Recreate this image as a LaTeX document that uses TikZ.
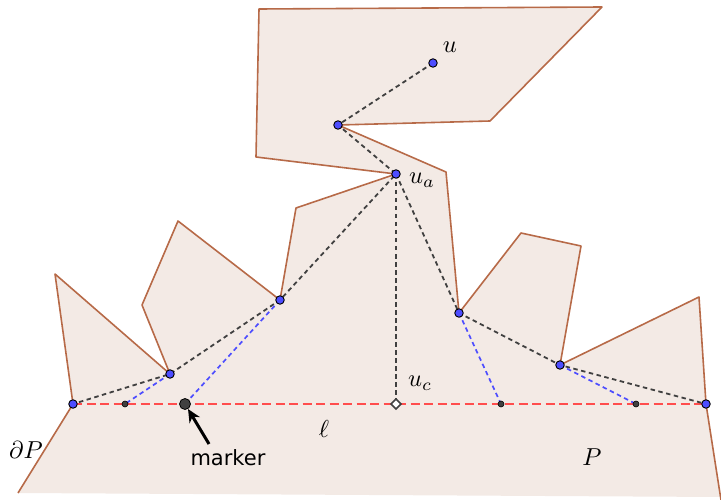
\documentclass[tikz,border=0pt]{standalone}
\usepackage{fontspec}
\newfontfamily\labelsans{DejaVu Sans}
\usetikzlibrary{arrows.meta}
\definecolor{polyfill}{HTML}{F3EAE5}
\definecolor{polyedge}{HTML}{B76A48}
\definecolor{ptblue}{HTML}{4D4DFF}
\definecolor{dkgray}{HTML}{404040}
\definecolor{lnred}{HTML}{FF4D4D}
\definecolor{lnblue}{HTML}{4D4DFF}
\begin{document}
\begin{tikzpicture}[x=1pt,y=-1pt,
  bluept/.style={circle,fill=ptblue,draw=black,line width=0.9pt,inner sep=0pt,minimum size=8.5pt},
  blackpt/.style={circle,fill=dkgray,draw=black,line width=0.6pt,inner sep=0pt,minimum size=6pt},
  markerpt/.style={circle,fill=dkgray,draw=black,line width=0.8pt,inner sep=0pt,minimum size=11pt},
  graydash/.style={draw=dkgray,line width=1.8pt,dash pattern=on 4.5pt off 3.5pt},
  bluedash/.style={draw=lnblue,line width=1.7pt,dash pattern=on 4.5pt off 3.5pt},
  reddash/.style={draw=lnred,line width=1.7pt,dash pattern=on 9pt off 4.5pt},
  mathlbl/.style={inner sep=0pt,scale=2.45},
  edge/.style={draw=polyedge,line width=1.6pt,line join=round}]
\useasboundingbox (0,0) rectangle (721,500);
% polygon fill
\fill[polyfill] (18,493) -- (73,404) -- (55,274) -- (170,374) -- (142,305) -- (178,221)
  -- (280,300) -- (296,208) -- (396,174) -- (256,157) -- (259,9) -- (602,7) -- (490,121)
  -- (338,125) -- (446,172) -- (459,313) -- (521,233) -- (581,246) -- (560,365)
  -- (699,297) -- (706,404) -- (721,500) -- (721,497) -- cycle;
\draw[edge] (18,493) -- (73,404) -- (55,274) -- (170,374) -- (142,305) -- (178,221)
  -- (280,300) -- (296,208) -- (396,174) -- (256,157) -- (259,9) -- (602,7) -- (490,121)
  -- (338,125) -- (446,172) -- (459,313) -- (521,233) -- (581,246) -- (560,365)
  -- (699,297) -- (706,404) -- (721,500);
% point positions
\coordinate (pu) at (433,63);
\coordinate (pb) at (338,125);
\coordinate (pa) at (396,174);
\coordinate (pl2) at (280,300);
\coordinate (pl1) at (170,374);
\coordinate (pl0) at (73,404);
\coordinate (pr1) at (459,313);
\coordinate (pr2) at (560,365);
\coordinate (pr3) at (706,404);
\coordinate (qa) at (125,404);
\coordinate (qm) at (185,404);
\coordinate (qc) at (396,404);
\coordinate (qb) at (501,404);
\coordinate (qd) at (636,404);
% dashed lines
\draw[reddash] (pl0) -- (pr3);
\draw[graydash] (pu) -- (pb) -- (pa) -- (pl2) -- (pl1) -- (pl0);
\draw[graydash] (pa) -- (pr1) -- (pr2) -- (pr3);
\draw[graydash] (pa) -- (qc);
\draw[bluedash] (pl1) -- (qa);
\draw[bluedash] (pl2) -- (qm);
\draw[bluedash] (pr1) -- (qb);
\draw[bluedash] (pr2) -- (qd);
% points
\node[bluept] (u) at (pu) {};
\node[bluept] (b) at (pb) {};
\node[bluept] (ua) at (pa) {};
\node[bluept] (l2) at (pl2) {};
\node[bluept] (l1) at (pl1) {};
\node[bluept] (l0) at (pl0) {};
\node[bluept] (r1) at (pr1) {};
\node[bluept] (r2) at (pr2) {};
\node[bluept] (r3) at (pr3) {};
\node[blackpt] (a) at (qa) {};
\node[markerpt] (marker) at (qm) {};
\node[blackpt] (bb) at (qb) {};
\node[blackpt] (dd) at (qd) {};
\node[draw=dkgray,fill=white,line width=1.5pt,rotate=45,minimum size=7pt,inner sep=0pt] (uc) at (qc) {};
% arrow
\coordinate (arrtail) at (209,444);
\draw[line width=3pt,-{Stealth[length=13pt,width=12pt]}] (arrtail) -- (marker);
% labels
\node[mathlbl] (lu) at (450,47) {$u$};
\node[mathlbl] (lua) at (422,180) {$u_a$};
\node[mathlbl] (luc) at (420,383) {$u_c$};
\node[mathlbl] (lell) at (324,429) {$\ell$};
\node[mathlbl] (ldp) at (26,450) {$\partial P$};
\node[mathlbl] (lp) at (592,457) {$P$};
\node[inner sep=0pt,font=\labelsans\fontsize{21}{25}\selectfont] (lm) at (228,458) {marker};
\end{tikzpicture}
\end{document}
